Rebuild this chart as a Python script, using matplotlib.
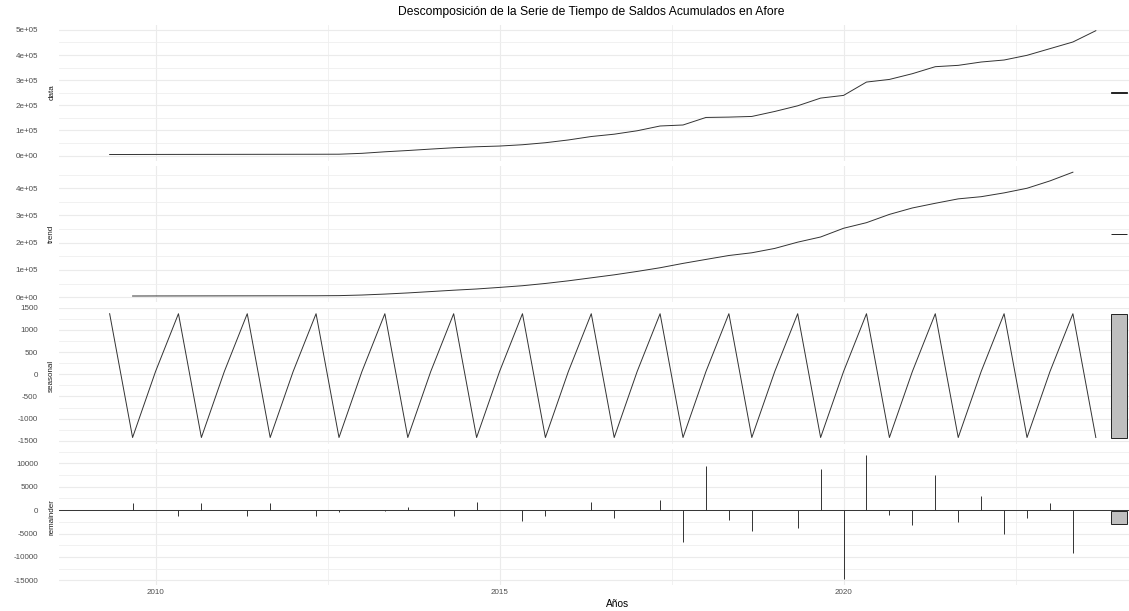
import numpy as np
import matplotlib.pyplot as plt
from matplotlib.patches import Rectangle

plt.rcParams['font.family'] = ['Liberation Sans', 'DejaVu Sans']

# serie cuatrimestral (frecuencia 3), inicia en el 2do periodo de 2009
inicio = 2009 + 1/3
frecuencia = 3

datos = [4100, 4200, 4400, 4500, 4600, 4700, 4800, 4900, 5000, 5100,
         5300, 8800, 14900, 20000, 25700, 31000, 35000, 37800, 43000, 51000,
         62000, 75700, 85000, 98600, 117600, 121600, 151600, 153000, 155600, 175500,
         198000, 228700, 239400, 292500, 303000, 325800, 353700, 359000, 372300, 380300,
         399000, 425500, 452000, 497000]

tendencia = [None, 4200, 4400, 4500, 4600, 4700, 4800, 4900, 5000, 5100,
             5600, 7800, 11300, 15500, 20500, 25500, 30000, 35800, 42000, 50300,
             60000, 71000, 82000, 94500, 108000, 124000, 138600, 153000, 163000, 179000,
             202000, 221000, 253000, 273600, 304000, 327600, 344800, 361000, 369000, 383000,
             400000, 427000, 459000, None]

estacional = [1364, -1425, 61, 1364, -1425, 61, 1364, -1425, 61, 1364,
              -1425, 61, 1364, -1425, 61, 1364, -1425, 61, 1364, -1425,
              61, 1364, -1425, 61, 1364, -1425, 61, 1364, -1425, 61,
              1364, -1425, 61, 1364, -1425, 61, 1364, -1425, 61, 1364,
              -1425, 61, 1364, -1425]

residuo = [None, 1620, -60, -1250, 1600, -50, -1250, 1600, -50, -1250,
           -450, 100, -200, 630, 80, -1200, 1690, 100, -2250, -1340,
           50, 1690, -1760, 60, 2260, -6800, 9350, -2200, -4460, 80,
           -3850, 8690, -14730, 11750, -1070, -3200, 7480, -2630, 3060, -5050,
           -1780, 1570, -9110, None]

ticks_data = [0, 100000, 200000, 300000, 400000, 500000]
etiquetas_data = ['0e+00', '1e+05', '2e+05', '3e+05', '4e+05', '5e+05']
ticks_trend = [0, 100000, 200000, 300000, 400000]
etiquetas_trend = ['0e+00', '1e+05', '2e+05', '3e+05', '4e+05']
ticks_seasonal = [-1500, -1000, -500, 0, 500, 1000, 1500]
ticks_remainder = [-15000, -10000, -5000, 0, 5000, 10000]
anios = [2010, 2015, 2020]
anios_menores = [2012.5, 2017.5, 2022.5]

componentes = [
    ('data', datos, ticks_data, etiquetas_data),
    ('trend', tendencia, ticks_trend, etiquetas_trend),
    ('seasonal', estacional, ticks_seasonal, [str(v) for v in ticks_seasonal]),
    ('remainder', residuo, ticks_remainder, [str(v) for v in ticks_remainder]),
]

W, H = 1129, 611
fig = plt.figure(figsize=(W / 100, H / 100), dpi=100)

n = len(datos)
t = inicio + np.arange(n) / frecuencia
series = [np.array([np.nan if v is None else v for v in c[1]], dtype=float) for c in componentes]

# barras de rango (como autoplot de forecast)
barwidth = (t[-1] - t[0]) / 64
rangos = [(np.nanmin(s), np.nanmax(s)) for s in series]
barlength = min(r[1] - r[0] for r in rangos)
xa, xb = t[0], t[-1] + 2 * barwidth
xlim = (xa - 0.05 * (xb - xa), xb + 0.05 * (xb - xa))

left_px, right_px = 58.8, 1177.5
top_px, alto, hueco = 24.5, 136.2, 5.3

for i, (nombre, _, ticks, etiquetas) in enumerate(componentes):
    s = series[i]
    y_top = top_px + i * (alto + hueco)
    ax = fig.add_axes([left_px / W, 1 - (y_top + alto) / H,
                       (right_px - left_px) / W, alto / H])
    lo, hi = rangos[i]
    ylim = (lo - 0.05 * (hi - lo), hi + 0.05 * (hi - lo))

    if nombre == 'remainder':
        ax.axhline(0, color='#333333', lw=0.7, zorder=2)
        ok = ~np.isnan(s)
        ax.vlines(t[ok], 0, s[ok], color='#333333', lw=0.7, zorder=3)
    else:
        ax.plot(t, s, color='#333333', lw=0.7, zorder=3)

    mid = (lo + hi) / 2
    ax.add_patch(Rectangle((t[-1] + barwidth, mid - barlength / 2), barwidth, barlength,
                           facecolor='#BFBFBF', edgecolor='#222222', lw=0.7, zorder=4))

    ax.set_yticks(ticks, etiquetas)
    paso = ticks[1] - ticks[0]
    menores = [v + paso / 2 for v in [ticks[0] - paso] + ticks]
    ax.set_yticks([v for v in menores if ylim[0] <= v <= ylim[1]], minor=True)
    ax.set_xticks(anios)
    ax.set_xticks(anios_menores, minor=True)
    ax.set_xlim(*xlim)
    ax.set_ylim(*ylim)
    ax.grid(which='major', color='#EBEBEB', lw=0.8)
    ax.grid(which='minor', color='#EFEFEF', lw=0.6)
    ax.set_axisbelow(True)
    for sp in ax.spines.values():
        sp.set_visible(False)
    ax.tick_params(which='both', length=0)
    ax.tick_params(axis='y', pad=15, labelsize=5.8, labelcolor='#4D4D4D')
    ax.tick_params(axis='x', pad=3, labelsize=5.8, labelcolor='#4D4D4D',
                   labelbottom=(nombre == 'remainder'))

    fig.text(51.7 / W, 1 - (y_top + alto / 2) / H, nombre, rotation=90,
             ha='center', va='center', fontsize=5.8, color='#1A1A1A')

fig.text(591 / W, 1 - 12 / H, 'Descomposición de la Serie de Tiempo de Saldos Acumulados en Afore',
         ha='center', va='center', fontsize=8.7, color='black')
fig.text(618 / W, 1 - 604 / H, 'Años', ha='center', va='center', fontsize=7.3, color='black')

fig.savefig('out.png', dpi=100)
